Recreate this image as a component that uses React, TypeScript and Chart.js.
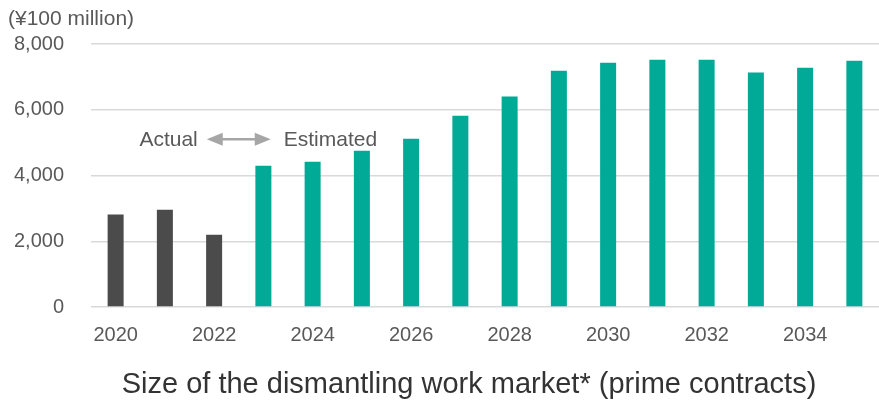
import React, { useEffect, useRef } from "react";
import { Chart, registerables } from "chart.js";

Chart.register(...registerables);

// ---- data ----
const years = ["2020", "2021", "2022", "2023", "2024", "2025", "2026", "2027", "2028", "2029", "2030", "2031", "2032", "2033", "2034", "2035"];
const marketSize = [2810, 2960, 2200, 4300, 4420, 4750, 5120, 5820, 6400, 7190, 7430, 7520, 7520, 7130, 7280, 7490];
const actualYears = ["2020", "2021", "2022"];
const yMin = 0;
const yMax = 8000;
const yStep = 2000;
const unitLabel = "(¥100 million)";
const titleText = "Size of the dismantling work market* (prime contracts)";
const actualLabel = "Actual";
const estimatedLabel = "Estimated";
const annotationLevel = 5100;

// ---- styles ----
const actualColor = "#4b4b4b";
const estimatedColor = "#00aa96";
const tickColor = "#595959";
const gridColor = "#d9d9d9";
const arrowColor = "#a6a6a6";
const titleColor = "#333333";
const FONT = '"Liberation Sans", Arial, "Noto Sans CJK JP", sans-serif';

const overlayPlugin = {
  id: "overlay",
  afterDraw(chart: any) {
    const ctx = chart.ctx as CanvasRenderingContext2D;
    const xs = chart.scales.x;
    const ys = chart.scales.y;
    ctx.save();

    // unit label
    ctx.font = `21px ${FONT}`;
    ctx.fillStyle = tickColor;
    ctx.textAlign = "left";
    ctx.textBaseline = "alphabetic";
    ctx.fillText(unitLabel, 8, 25);

    // annotation arrow between actual and estimated
    const lastActual = actualYears.length - 1;
    const xMid = (xs.getPixelForValue(lastActual) + xs.getPixelForValue(lastActual + 1)) / 2;
    const yA = ys.getPixelForValue(annotationLevel);
    const half = 32;
    const headLen = 16;
    const headH = 6.5;
    ctx.strokeStyle = arrowColor;
    ctx.fillStyle = arrowColor;
    ctx.lineWidth = 2.5;
    ctx.beginPath();
    ctx.moveTo(xMid - half + headLen - 2, yA);
    ctx.lineTo(xMid + half - headLen + 2, yA);
    ctx.stroke();
    ctx.beginPath();
    ctx.moveTo(xMid - half, yA);
    ctx.lineTo(xMid - half + headLen, yA - headH);
    ctx.lineTo(xMid - half + headLen, yA + headH);
    ctx.closePath();
    ctx.fill();
    ctx.beginPath();
    ctx.moveTo(xMid + half, yA);
    ctx.lineTo(xMid + half - headLen, yA - headH);
    ctx.lineTo(xMid + half - headLen, yA + headH);
    ctx.closePath();
    ctx.fill();

    ctx.font = `21px ${FONT}`;
    ctx.fillStyle = tickColor;
    ctx.textBaseline = "alphabetic";
    ctx.textAlign = "right";
    ctx.fillText(actualLabel, xMid - half - 9, yA + 7);
    ctx.textAlign = "left";
    ctx.fillText(estimatedLabel, xMid + half + 13, yA + 7);

    // title
    ctx.font = `29px ${FONT}`;
    ctx.fillStyle = titleColor;
    ctx.textAlign = "center";
    ctx.fillText(titleText, 469, 393);
    ctx.restore();
  },
};

export default function App() {
  const canvasRef = useRef<HTMLCanvasElement | null>(null);

  useEffect(() => {
    if (!canvasRef.current) return;
    const colors = years.map((y) => (actualYears.includes(y) ? actualColor : estimatedColor));
    const chart = new Chart(canvasRef.current, {
      type: "bar",
      data: {
        labels: years,
        datasets: [
          {
            data: marketSize,
            backgroundColor: colors,
            borderWidth: 0,
            barPercentage: 0.325,
            categoryPercentage: 1,
          },
        ],
      },
      options: {
        responsive: false,
        animation: false,
        layout: { padding: { top: 44, right: 0, bottom: 0, left: 0 } },
        plugins: {
          legend: { display: false },
          tooltip: { enabled: false },
          title: { display: false },
        },
        scales: {
          x: {
            grid: { display: false, drawTicks: false },
            border: { display: false },
            ticks: {
              autoSkip: false,
              maxRotation: 0,
              minRotation: 0,
              padding: 16,
              color: tickColor,
              font: { family: FONT, size: 20 },
              callback: (_v: any, i: number) => (i % 2 === 0 ? years[i] : ""),
            },
            afterFit: (scale: any) => {
              scale.height = 93;
            },
          },
          y: {
            min: yMin,
            max: yMax,
            grid: { color: gridColor, lineWidth: 1.5, drawTicks: false },
            border: { display: false },
            ticks: {
              stepSize: yStep,
              padding: 27,
              color: tickColor,
              font: { family: FONT, size: 20 },
              callback: (v: any) => Number(v).toLocaleString("en-US"),
            },
            afterFit: (scale: any) => {
              scale.width = 91;
            },
          },
        },
      },
      plugins: [overlayPlugin],
    });
    return () => chart.destroy();
  }, []);

  return (
    <div style={{ position: "fixed", left: 0, top: 0, width: 879, height: 400, background: "#ffffff" }}>
      <canvas ref={canvasRef} width={879} height={400} />
    </div>
  );
}
